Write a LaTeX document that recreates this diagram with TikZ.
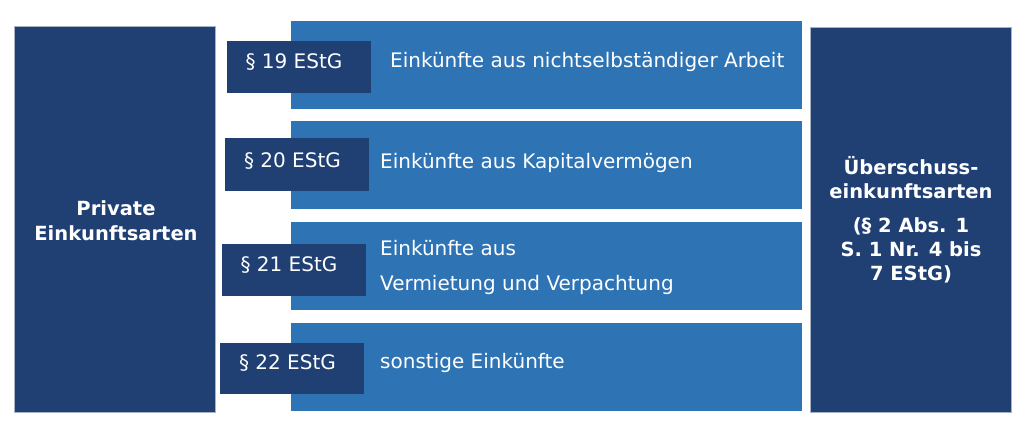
\documentclass[tikz,border=0pt]{standalone}
\usepackage{fontspec}
\setmainfont{DejaVu Sans}
\definecolor{navy}{RGB}{32,64,115}
\definecolor{lblue}{RGB}{46,116,181}
\begin{document}
\begin{tikzpicture}[x=1pt,y=-1pt,
  bigbox/.style={fill=navy,draw=navy!40!white,line width=0.6pt,inner sep=0pt},
  rowbox/.style={fill=lblue,draw=none,minimum width=511pt,minimum height=88pt,inner sep=0pt},
  lawbox/.style={fill=navy,draw=none,minimum width=144pt,minimum height=52pt,inner sep=0pt},
  lawtxt/.style={text=white,font=\fontsize{20}{23}\selectfont,inner sep=0pt},
  rowtxt/.style={text=white,font=\fontsize{20}{23}\selectfont,inner sep=0pt,anchor=west},
  boldtxt/.style={text=white,font=\bfseries\fontsize{19.5}{24}\selectfont,align=center,inner sep=0pt}]
\useasboundingbox (0,0) rectangle (1024,441);
\fill[white] (0,0) rectangle (1024,441);
% big side boxes
\node[bigbox,minimum width=201pt,minimum height=386pt] (left) at (114.5,219) {};
\node[bigbox,minimum width=201pt,minimum height=385pt] (right) at (910.5,219.5) {};
\node[boldtxt,font=\bfseries\fontsize{19.5}{25}\selectfont] (lefttxt) at (116,220.5) {Private\\Einkunftsarten};
\node[boldtxt] (righttxt1) at (911,177.5) {Überschuss-\\einkunftsarten};
\node[boldtxt] (righttxt2) at (911,250) {(§ 2 Abs. 1\\S. 1 Nr. 4 bis\\7 EStG)};
% rows
\node[rowbox] (r1) at (546.5,65) {};
\node[rowbox] (r2) at (546.5,165) {};
\node[rowbox] (r3) at (546.5,266) {};
\node[rowbox] (r4) at (546.5,367) {};
\node[lawbox] (l1) at (298.5,67) {};
\node[lawbox,minimum height=53pt] (l2) at (297,164.5) {};
\node[lawbox] (l3) at (294,270) {};
\node[lawbox,minimum height=51pt] (l4) at (292,368.5) {};
\node[lawtxt] (lt1) at (294,62) {§ 19 EStG};
\node[lawtxt] (lt2) at (292.5,161) {§ 20 EStG};
\node[lawtxt] (lt3) at (289,265) {§ 21 EStG};
\node[lawtxt] (lt4) at (287.5,363) {§ 22 EStG};
\node[rowtxt] (t1) at (390,62) {Einkünfte aus nichtselbständiger Arbeit};
\node[rowtxt] (t2) at (380,163) {Einkünfte aus Kapitalvermögen};
\node[rowtxt] (t3a) at (380,248) {Einkünfte aus};
\node[rowtxt] (t3b) at (380,285) {Vermietung und Verpachtung};
\node[rowtxt] (t4) at (380,363) {sonstige Einkünfte};
\end{tikzpicture}
\end{document}
